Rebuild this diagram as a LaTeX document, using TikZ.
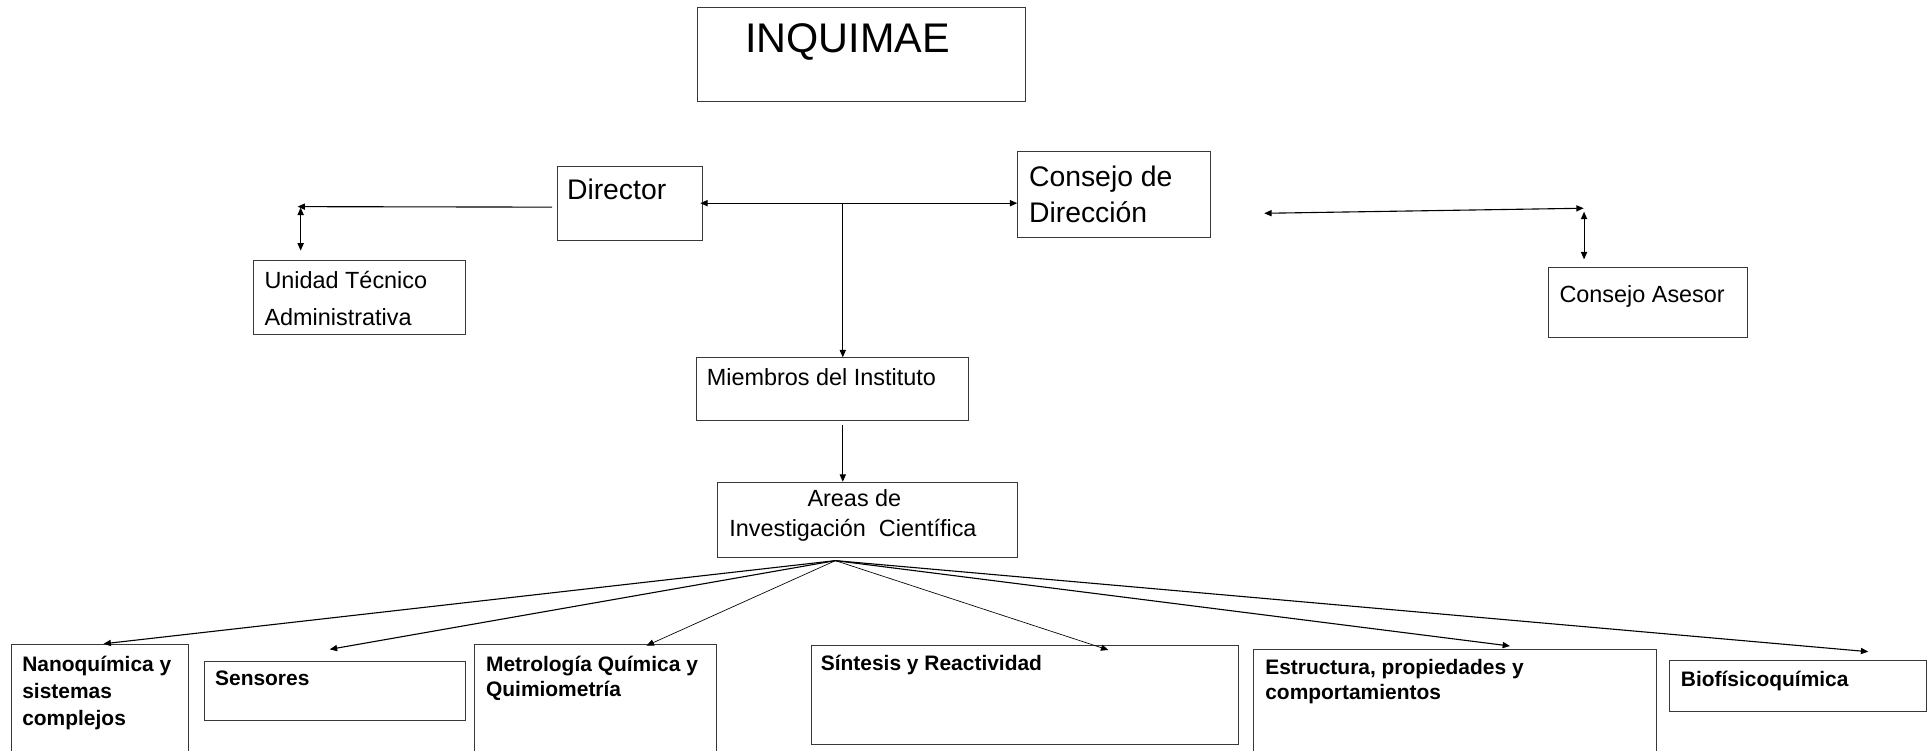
\documentclass[tikz,border=0pt]{standalone}
\usepackage{fontspec}
\setmainfont{Liberation Sans}
\usetikzlibrary{arrows.meta}
\begin{document}
\begin{tikzpicture}[x=1pt,y=-1pt,
  box/.style={draw=black!78, line width=0.8pt, rectangle, inner sep=0pt, anchor=north west},
  lbl/.style={anchor=base west, inner sep=0pt, text=black},
  big/.style={lbl, font=\fontsize{33.6}{33.6}\selectfont},
  mid/.style={lbl, font=\fontsize{23}{23}\selectfont},
  sml/.style={lbl, font=\fontsize{19}{19}\selectfont},
  bld/.style={lbl, font=\bfseries\fontsize{17}{17}\selectfont},
  arr/.style={line width=0.9pt, -{Triangle[length=6pt,width=5pt]}},
  darr/.style={line width=0.9pt, {Triangle[length=6pt,width=5pt]}-{Triangle[length=6pt,width=5pt]}},
  thinarr/.style={arr, line width=0.55pt}
]
\useasboundingbox (0,0) rectangle (1568,608.7);
\clip (0,0) rectangle (1568,608.7);

% boxes
\node[box, minimum width=266pt, minimum height=75.7pt] (inq) at (566,6) {};
\node[box, minimum width=118pt, minimum height=60pt] (dir) at (452,135) {};
\node[box, minimum width=156.2pt, minimum height=69.7pt] (cd) at (825.6,122.3) {};
\node[box, minimum width=172pt, minimum height=60pt] (uta) at (205.5,211) {};
\node[box, minimum width=161.5pt, minimum height=56.2pt] (ca) at (1256.6,217) {};
\node[box, minimum width=221pt, minimum height=51pt] (mie) at (565,290) {};
\node[box, minimum width=243pt, minimum height=61pt] (areas) at (582,391) {};
\node[box, minimum width=143.5pt, minimum height=100pt] (nano) at (9.3,522.7) {};
\node[box, minimum width=211.7pt, minimum height=48.2pt] (sens) at (165.8,536.2) {};
\node[box, minimum width=196.4pt, minimum height=100pt] (metro) at (384.9,522.7) {};
\node[box, minimum width=347pt, minimum height=80.3pt] (sint) at (658,523.5) {};
\node[box, minimum width=326.8pt, minimum height=100pt] (estr) at (1017.2,527) {};
\node[box, minimum width=208.4pt, minimum height=41.1pt] (bio) at (1354.8,535.7) {};

% texts
\node[big] (inqT) at (604.7,42.5) {INQUIMAE};
\node[mid] (dirT) at (460,162.3) {Director};
\node[mid] (cdT1) at (835,151) {Consejo de};
\node[mid] (cdT2) at (835,180.5) {Dirección};
\node[sml] (utaT1) at (214.5,234) {Unidad Técnico};
\node[sml] (utaT2) at (214.5,263.8) {Administrativa};
\node[sml] (caT) at (1265.5,245.6) {Consejo Asesor};
\node[sml] (mieT) at (573.5,313) {Miembros del Instituto};
\node[sml] (arT1) at (655.2,411.2) {Areas de};
\node[sml] (arT2) at (591.7,435.6) {Investigación\ \ Científica};
\node[bld] (nanoT1) at (17.9,545.1) {Nanoquímica y};
\node[bld] (nanoT2) at (17.9,566.8) {sistemas};
\node[bld] (nanoT3) at (17.9,588.4) {complejos};
\node[bld] (sensT) at (174.4,556) {Sensores};
\node[bld] (metroT1) at (394.3,545.1) {Metrología Química y};
\node[bld] (metroT2) at (394.3,565.4) {Quimiometría};
\node[bld] (sintT) at (666,543.8) {Síntesis y Reactividad};
\node[bld] (estrT1) at (1026.7,547.8) {Estructura, propiedades y};
\node[bld] (estrT2) at (1026.7,568.1) {comportamientos};
\node[bld] (bioT) at (1364,556.8) {Biofísicoquímica};

% Director -> Unidad
\coordinate (dirL) at ([xshift=-4pt,yshift=-2.7pt]dir.west);
\coordinate (utaC) at (241.5,167.7);
\draw[arr] (dirL) -- (utaC);
\coordinate (utaV1) at (244,168.5);
\coordinate (utaV0) at (utaV1 |- uta.north);
\draw[darr] (utaV1) -- ([yshift=7.6pt]utaV0);

% Director <-> Consejo de Direccion
\coordinate (dE) at ([xshift=-2.5pt,yshift=0.5pt]dir.east);
\draw[darr] (dE) -- (dE -| cd.west);

% junction down to Miembros and Areas
\coordinate (j) at (684,164.7);
\draw[arr] (j) -- (j |- mie.north);
\coordinate (m1) at (j |- mie.south);
\draw[arr] ([yshift=-3pt]m1) -- (j |- areas.north);

% Consejo de Direccion <-> Consejo Asesor
\coordinate (cdR) at (1026,173.1);
\coordinate (caTop) at (1285.3,169);
\draw[darr] (cdR) -- (caTop);
\coordinate (caV) at (1285.6,171.8);
\coordinate (caV0) at (caV |- ca.north);
\draw[darr] (caV) -- ([yshift=6.5pt]caV0);

% fan-out from Areas
\coordinate (src) at (678,455);
\coordinate (tNano) at (84,522.5);
\coordinate (tSens) at (267.6,527);
\coordinate (tMetro) at (524.7,524);
\coordinate (tSint) at (899.5,527.5);
\coordinate (tEstr) at (1225.5,524.3);
\coordinate (tBio) at (1516.3,528.9);
\draw[arr] (src) -- (tNano);
\draw[arr] (src) -- (tSens);
\draw[thinarr] (src) -- (tMetro);
\draw[thinarr] (src) -- (tSint);
\draw[arr] (src) -- (tEstr);
\draw[arr] (src) -- (tBio);
\end{tikzpicture}
\end{document}
